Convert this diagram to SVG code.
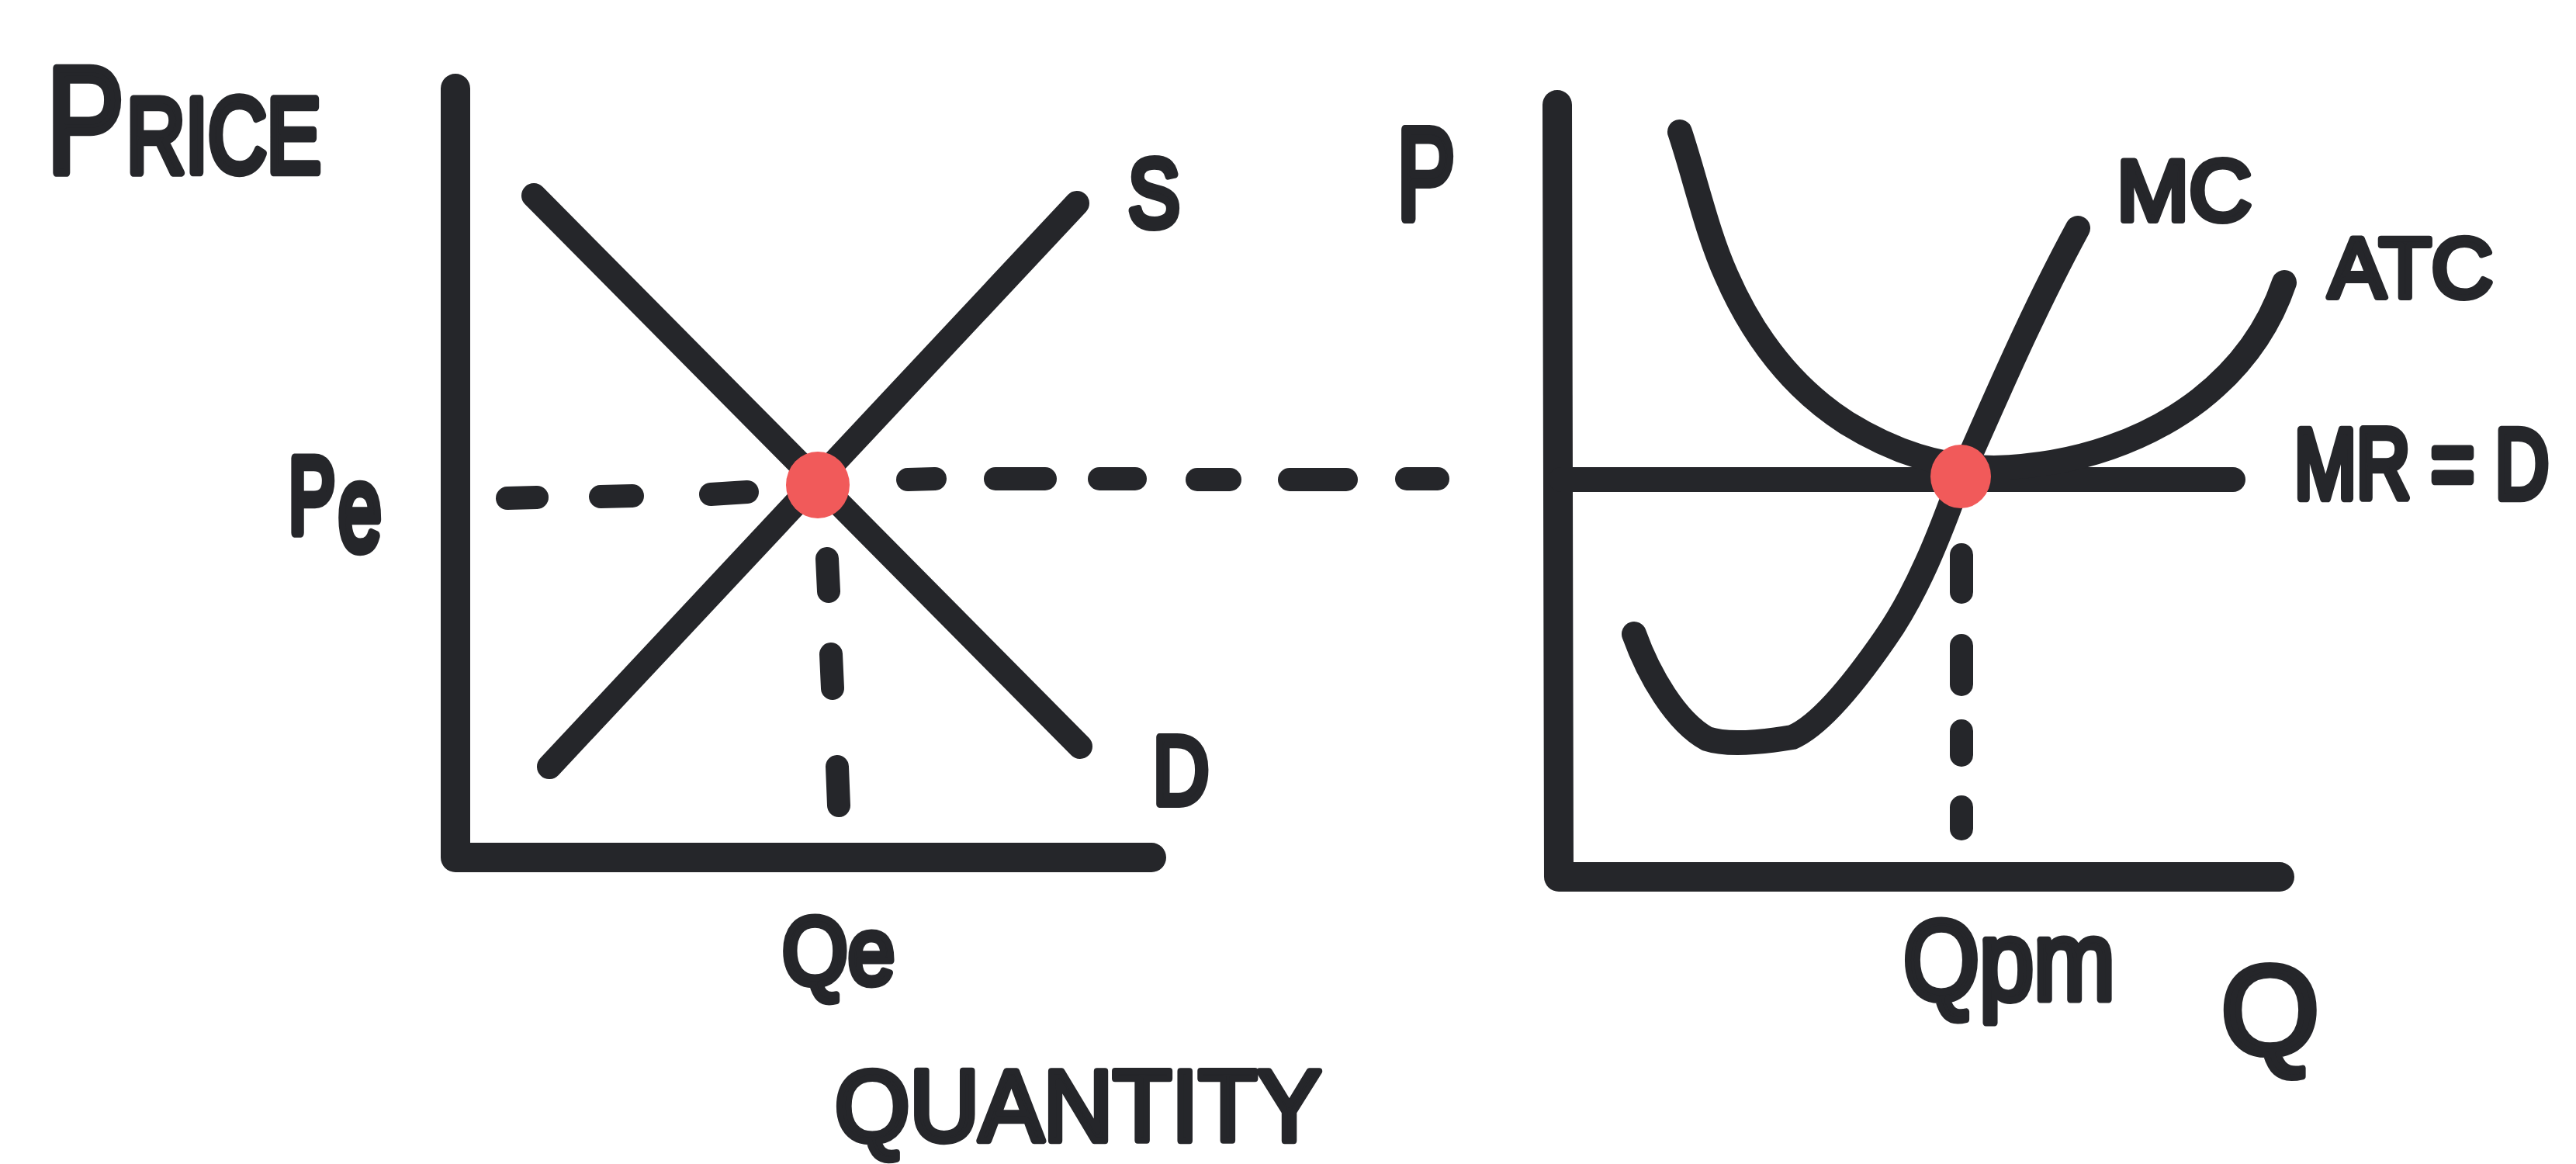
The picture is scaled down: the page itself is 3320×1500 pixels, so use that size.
<svg xmlns="http://www.w3.org/2000/svg" width="3320" height="1500" viewBox="0 0 3320 1500">
<style>
.ln{fill:none;stroke:#25262a;stroke-linecap:round;stroke-linejoin:round}
.ax{stroke-width:38}
.cv{stroke-width:32}
.ds{stroke-width:30}
.dot{fill:#f15a5a}
.lbl{font-family:"Liberation Sans","DejaVu Sans",Arial,sans-serif;font-weight:normal;fill:#25262a;stroke:#25262a;stroke-width:8;stroke-linejoin:round;stroke-linecap:round}
</style>
<rect width="3320" height="1500" fill="#ffffff"/>
<g id="left-chart">
  <path id="left-axes" class="ln ax" d="M587,114 L587,1105 L1484,1105"/>
  <g id="connectors">
    <path id="demand-line" class="ln cv" d="M688,252 L1392,962"/>
    <path id="supply-line" class="ln cv" d="M708,988 L1388,262"/>
    <g id="pe-dashes" class="ln ds">
      <path d="M654,642 L692,641"/>
      <path d="M774,640 L815,639"/>
      <path d="M916,637 L963,634"/>
      <path d="M1170,618 L1205,617"/>
      <path d="M1283,617 L1347,617"/>
      <path d="M1417,617 L1463,617"/>
      <path d="M1543,618 L1585,618"/>
      <path d="M1662,618 L1735,618"/>
      <path d="M1813,617 L1853,617"/>
    </g>
    <g id="qe-dashes" class="ln ds">
      <path d="M1066,720 L1068,762"/>
      <path d="M1071,843 L1073,887"/>
      <path d="M1079,988 L1081,1038"/>
    </g>
  </g>
  <ellipse id="left-equilibrium" class="dot" cx="1054" cy="625" rx="41" ry="43"/>
</g>
<g id="right-chart">
  <path id="right-axes" class="ln ax" d="M2007,135 L2009,1130 L2938,1130"/>
  <g id="curves">
    <path id="mr-d-line" class="ln cv" d="M2012,618 L2878,618"/>
    <path id="atc-curve" class="ln cv" d="M2165,170 C2185,230 2200,300 2225,355 C2260,435 2310,500 2380,545 C2440,582 2500,602 2570,603 C2680,600 2770,565 2835,515 C2890,472 2925,420 2944,364"/>
    <path id="mc-curve" class="ln cv" d="M2106,817 C2125,870 2160,930 2200,952 C2230,962 2280,955 2310,950 C2345,935 2390,880 2430,822 C2470,765 2500,690 2527,614 C2565,530 2615,410 2678,294"/>
    <g id="qpm-dashes" class="ln ds">
      <path d="M2528,715 L2528,763"/>
      <path d="M2528,832 L2528,882"/>
      <path d="M2528,942 L2528,973"/>
      <path d="M2528,1040 L2528,1068"/>
    </g>
  </g>
  <ellipse id="right-equilibrium" class="dot" cx="2527" cy="614" rx="39" ry="41"/>
</g>
<g id="labels">
  <text id="lbl-price" class="lbl" transform="translate(0,222) scale(1,1.3)" y="0"><tspan x="60" font-size="150">P</tspan><tspan x="163" font-size="105">RICE</tspan></text>
  <text id="lbl-s" class="lbl" transform="translate(1454,292) scale(1,1.25)" x="0" y="0" font-size="100">S</text>
  <text id="lbl-p" class="lbl" transform="translate(1801,282) scale(1,1.5)" x="0" y="0" font-size="111">P</text>
  <text id="lbl-mc" class="lbl" x="2728" y="284" font-size="112">MC</text>
  <text id="lbl-atc" class="lbl" x="3001" y="383" font-size="110">ATC</text>
  <text id="lbl-mrd" class="lbl" transform="translate(2957,642) scale(1,1.33)" x="0" y="0" font-size="96">MR = D</text>
  <text id="lbl-pe" class="lbl" transform="translate(0,686) scale(1,1.55)" y="0"><tspan x="372" font-size="90">P</tspan><tspan x="436" dy="14" font-size="100">e</tspan></text>
  <text id="lbl-d" class="lbl" transform="translate(1486,1036) scale(1,1.24)" x="0" y="0" font-size="100">D</text>
  <text id="lbl-qe" class="lbl" transform="translate(1008,1268) scale(1,1.12)" x="0" y="0" font-size="109">Qe</text>
  <text id="lbl-quantity" class="lbl" transform="translate(1076,1470) scale(1,1.05)" x="0" y="0" font-size="124">QUANTITY</text>
  <text id="lbl-qpm" class="lbl" transform="translate(2453,1288) scale(1,1.15)" x="0" y="0" font-size="126">Qpm</text>
  <text id="lbl-q" class="lbl" x="2862" y="1358" font-size="164">Q</text>
</g>
</svg>
